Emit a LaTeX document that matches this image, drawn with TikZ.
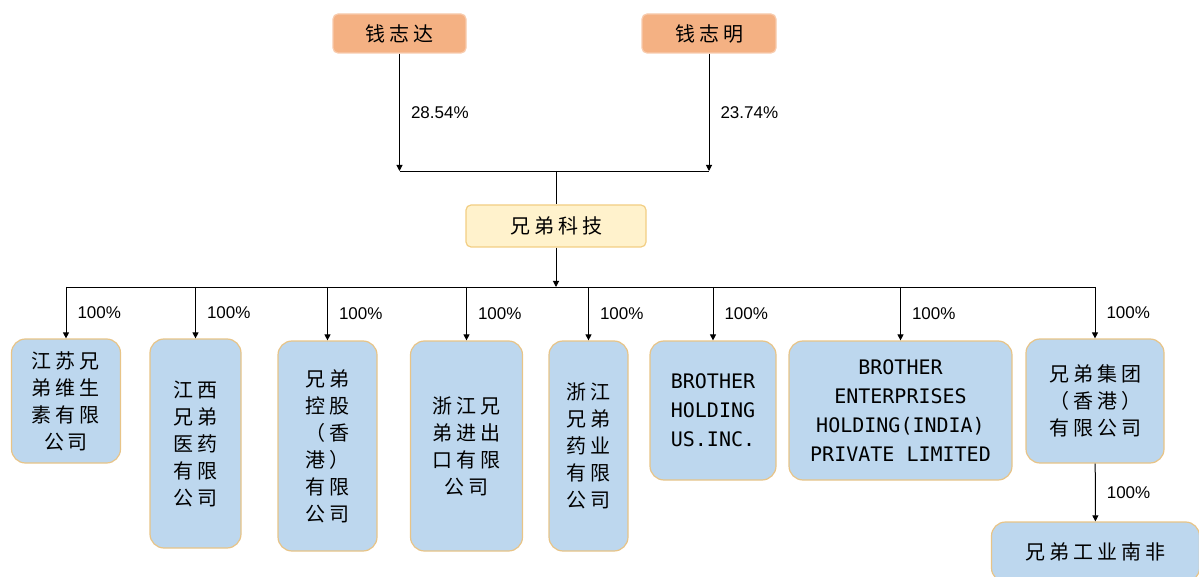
\documentclass[tikz,border=0pt]{standalone}
\usepackage{fontspec}
\setmainfont{Liberation Sans}
\newfontfamily\cjk[LetterSpace=20]{Noto Sans CJK SC}
\newfontfamily\latinmono{DejaVu Sans Mono}
\usetikzlibrary{arrows.meta}
\definecolor{personfill}{HTML}{F4B183}
\definecolor{personline}{HTML}{F8CBAD}
\definecolor{mainfill}{HTML}{FFF2CC}
\definecolor{mainline}{HTML}{F2CE83}
\definecolor{subfill}{HTML}{BDD7EE}
\definecolor{subline}{HTML}{E8C487}
\tikzset{
  person/.style={draw=personline, fill=personfill, rounded corners=2.5pt, line width=0.6pt,
    inner sep=0pt, font=\cjk\fontsize{10}{13.5}\selectfont},
  company/.style={draw=mainline, fill=mainfill, rounded corners=2.5pt, line width=0.6pt,
    inner sep=0pt, font=\cjk\fontsize{10}{13.5}\selectfont},
  sub/.style={draw=subline, fill=subfill, rounded corners=7pt, line width=0.6pt,
    inner sep=0pt, align=center, font=\cjk\fontsize{10}{13.5}\selectfont},
  subeng/.style={sub, font=\latinmono\fontsize{10}{14.5}\selectfont},
  tip/.style={-{Triangle[length=3pt,width=3pt]}, line width=0.5pt},
  pct/.style={anchor=west, inner sep=0pt, xshift=5.5pt, font=\fontsize{8.5}{10}\selectfont}
}
\begin{document}
\begin{tikzpicture}[x=0.5pt, y=-0.5pt]
    \useasboundingbox (0,0) rectangle (1199,577);

    \node[person, minimum width=66.5pt, minimum height=19.5pt] (qzd) at (399.5,33.5) {钱志达};
    \node[person, minimum width=67pt, minimum height=19.5pt] (qzm) at (709,33.5) {钱志明};
    \node[company, minimum width=90pt, minimum height=21pt] (xdkj) at (556,226) {兄弟科技};

    \coordinate (join1) at (399.5,171);
    \coordinate (join2) at (709,171);
    \coordinate (bus) at (556,287);

    \draw[tip] (qzd) -- (join1) node[pct, midway] (pct1) {28.54\%};
    \draw[tip] (qzm) -- (join2) node[pct, midway] (pct2) {23.74\%};
    \draw (join1) -- (join2);
    \draw (xdkj.north |- join1) -- (xdkj.north);
    \draw[tip] (xdkj) -- (bus);

    % subsidiaries
    \node[sub, minimum width=54.5pt, minimum height=62pt] (sub1) at (66,401) {江苏兄\\弟维生\\素有限\\公司};
    \node[sub, minimum width=45.5pt, minimum height=104.5pt] (sub2) at (195.5,443.5) {江西\\兄弟\\医药\\有限\\公司};
    \node[sub, minimum width=49.5pt, minimum height=105pt] (sub3) at (327.5,446) {兄弟\\控股\\（香\\港）\\有限\\公司};
    \node[sub, minimum width=56pt, minimum height=105pt] (sub4) at (466.5,446) {浙江兄\\弟进出\\口有限\\公司};
    \node[sub, minimum width=39.5pt, minimum height=105pt] (sub5) at (588.5,446) {浙江\\兄弟\\药业\\有限\\公司};
    \node[subeng, minimum width=63pt, minimum height=69.5pt] (sub6) at (713,410.5) {BROTHER\\HOLDING\\US.INC.};
    \node[subeng, minimum width=111.5pt, minimum height=69.5pt] (sub7) at (900.5,410.5) {BROTHER\\ENTERPRISES\\HOLDING(INDIA)\\PRIVATE LIMITED};
    \node[sub, minimum width=69pt, minimum height=62pt] (sub8) at (1095,401) {兄弟集团\\（香港）\\有限公司};
    \node[sub, minimum width=104pt, minimum height=30pt] (sub9) at (1095.5,552) {兄弟工业南非};

    \draw (sub1.north |- bus) -- (sub8.north |- bus);
    \foreach \s in {sub1,sub2,sub3,sub4,sub5,sub6,sub7,sub8}
        \draw[tip] (\s.north |- bus) -- (\s.north) node[pct, midway] (p-\s) {100\%};
    \draw[tip] (sub8) -- (sub9) node[pct, midway] (p-sub9) {100\%};
\end{tikzpicture}
\end{document}
